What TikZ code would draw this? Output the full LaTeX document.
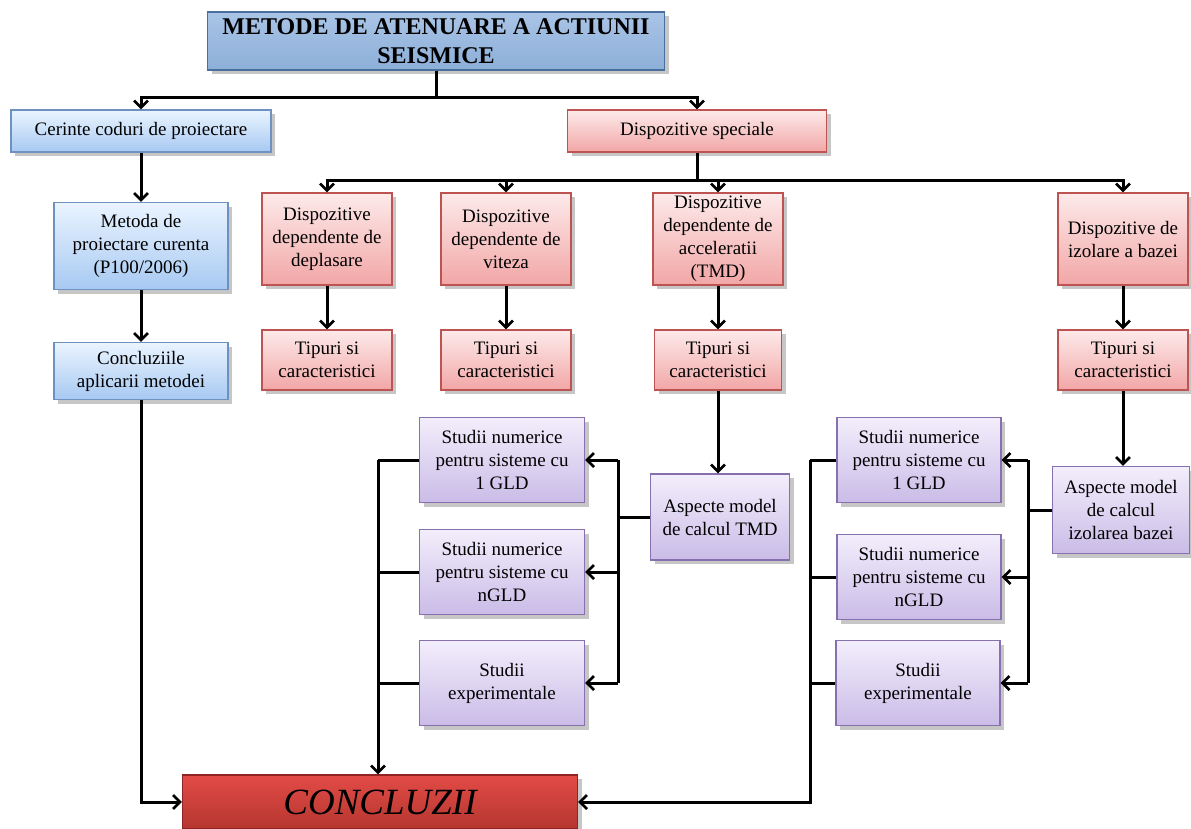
\documentclass[tikz,border=0pt]{standalone}
\usepackage{fontspec}
\setmainfont{Liberation Serif}
\usetikzlibrary{arrows.meta,shadows,calc}
\definecolor{titletop}{HTML}{A9C4E6}
\definecolor{titlebot}{HTML}{8DAFD8}
\definecolor{titleedge}{HTML}{4A6F9E}
\definecolor{bluetop}{HTML}{EAF4FF}
\definecolor{bluebot}{HTML}{A7C9F2}
\definecolor{blueedge}{HTML}{6E91BF}
\definecolor{redtop}{HTML}{FDEAEA}
\definecolor{redbot}{HTML}{F2A6A6}
\definecolor{rededge}{HTML}{BE5451}
\definecolor{purtop}{HTML}{F3EEFC}
\definecolor{purbot}{HTML}{CABCE7}
\definecolor{puredge}{HTML}{8670AE}
\definecolor{conctop}{HTML}{E34B47}
\definecolor{concbot}{HTML}{B5362F}
\definecolor{concedge}{HTML}{8E2522}
\tikzset{
  box/.style={draw, line width=1.3pt, align=center, inner sep=2pt,
    font=\fontsize{19}{23}\selectfont,
    drop shadow={opacity=0.45, shadow xshift=4pt, shadow yshift=-4pt}},
  bluebox/.style={box, top color=bluetop, bottom color=bluebot, draw=blueedge},
  redbox/.style={box, top color=redtop, bottom color=redbot, draw=rededge},
  purbox/.style={box, top color=purtop, bottom color=purbot, draw=puredge},
  ln/.style={line width=3pt, line join=miter},
  arr/.style={ln, -{Straight Barb[length=7pt,width=14pt,line width=2.6pt]}},
}
\begin{document}
\begin{tikzpicture}[x=1pt,y=-1pt]
\useasboundingbox (0,0) rectangle (1191,828);
% nodes
\node[box, top color=titletop, bottom color=titlebot, draw=titleedge,
  minimum width=457pt, minimum height=58pt,
  font=\bfseries\fontsize{24}{29}\selectfont] (top) at (436,41)
  {METODE DE ATENUARE A ACTIUNII\\SEISMICE};
\node[bluebox, minimum width=260pt, minimum height=42pt] (cer) at (141,131) {Cerinte coduri de proiectare};
\node[redbox, minimum width=259pt, minimum height=42pt] (ds) at (697,131) {Dispozitive speciale};
\node[bluebox, minimum width=174pt, minimum height=87pt] (met) at (141,246) {Metoda de\\proiectare curenta\\(P100/2006)};
\node[bluebox, minimum width=174pt, minimum height=57pt] (ccl) at (141,371) {Concluziile\\aplicarii metodei};
\node[redbox, minimum width=130pt, minimum height=92pt] (d1) at (327,239) {Dispozitive\\dependente de\\deplasare};
\node[redbox, minimum width=130pt, minimum height=92pt] (d2) at (506,239) {Dispozitive\\dependente de\\viteza};
\node[redbox, minimum width=130pt, minimum height=92pt] (d3) at (718,239) {Dispozitive\\dependente de\\acceleratii\\(TMD)};
\node[redbox, minimum width=130pt, minimum height=92pt] (d4) at (1123,239) {Dispozitive de\\izolare a bazei};
\node[redbox, minimum width=130pt, minimum height=60pt] (t1) at (327,360) {Tipuri si\\caracteristici};
\node[redbox, minimum width=130pt, minimum height=60pt] (t2) at (506,360) {Tipuri si\\caracteristici};
\node[redbox, minimum width=127pt, minimum height=60pt] (t3) at (718,360) {Tipuri si\\caracteristici};
\node[redbox, minimum width=130pt, minimum height=60pt] (t4) at (1123,360) {Tipuri si\\caracteristici};
\node[purbox, minimum width=139pt, minimum height=86pt] (a1) at (720,517) {Aspecte model\\de calcul TMD};
\node[purbox, minimum width=137pt, minimum height=87pt] (a2) at (1121,510) {Aspecte model\\de calcul\\izolarea bazei};
\node[purbox, minimum width=165pt, minimum height=85pt] (s1) at (502,460) {Studii numerice\\pentru sisteme cu\\1 GLD};
\node[purbox, minimum width=165pt, minimum height=85pt] (s2) at (502,572) {Studii numerice\\pentru sisteme cu\\nGLD};
\node[purbox, minimum width=165pt, minimum height=85pt] (s3) at (502,683) {Studii\\experimentale};
\node[purbox, minimum width=164pt, minimum height=85pt] (s4) at (919,460) {Studii numerice\\pentru sisteme cu\\1 GLD};
\node[purbox, minimum width=164pt, minimum height=85pt] (s5) at (919,577) {Studii numerice\\pentru sisteme cu\\nGLD};
\node[purbox, minimum width=164pt, minimum height=85pt] (s6) at (918,683) {Studii\\experimentale};
\node[box, top color=conctop, bottom color=concbot, draw=concedge,
  minimum width=395pt, minimum height=54pt,
  font=\itshape\fontsize{37}{40}\selectfont] (ccz) at (380,802) {CONCLUZII};
% bus coordinates
\coordinate (b1) at (436,97);
\coordinate (b2) at (697,180);
\coordinate (busR) at (618,0);
\coordinate (busL) at (378,0);
\coordinate (busR2) at (1028,0);
\coordinate (busL2) at (810,0);
% connectors
\draw[ln] (top.south) -- (b1);
\draw[arr] (b1) -| (cer.north);
\draw[arr] (b1) -| (ds.north);
\draw[ln] (ds.south) -- (b2);
\draw[arr] (b2) -| (d1.north);
\draw[arr] (b2) -| (d2.north);
\draw[arr] (b2) -| (d3.north);
\draw[arr] (b2) -| (d4.north);
\draw[arr] (cer.south) -- (met.north);
\draw[arr] (met.south) -- (ccl.north);
\draw[arr] (d1.south) -- (t1.north);
\draw[arr] (d2.south) -- (t2.north);
\draw[arr] (d3.south) -- (t3.north);
\draw[arr] (d4.south) -- (t4.north);
\draw[arr] (t3.south) -- (t3.south |- a1.north);
\draw[arr] (t4.south) -- (t4.south |- a2.north);
% TMD group
\draw[ln] (a1.west) -- (a1.west -| busR);
\draw[ln] (s1.east -| busR) -- (s3.east -| busR);
\draw[arr] (s1.east -| busR) -- (s1.east);
\draw[arr] (s2.east -| busR) -- (s2.east);
\draw[arr] (s3.east -| busR) -- (s3.east);
\draw[ln] (s1.west) -- (s1.west -| busL);
\draw[ln] (s2.west) -- (s2.west -| busL);
\draw[ln] (s3.west) -- (s3.west -| busL);
\draw[arr] (s1.west -| busL) -- (busL |- ccz.north);
% base isolation group
\draw[ln] (a2.west) -- (a2.west -| busR2);
\draw[ln] (s4.east -| busR2) -- (s6.east -| busR2);
\draw[arr] (s4.east -| busR2) -- (s4.east);
\draw[arr] (s5.east -| busR2) -- (s5.east);
\draw[arr] (s6.east -| busR2) -- (s6.east);
\draw[ln] (s4.west) -- (s4.west -| busL2);
\draw[ln] (s5.west) -- (s5.west -| busL2);
\draw[ln] (s6.west) -- (s6.west -| busL2);
\draw[arr] (s4.west -| busL2) |- (ccz.east);
% left column to conclusions
\draw[arr] (ccl.south) |- (ccz.west);
\end{tikzpicture}
\end{document}
